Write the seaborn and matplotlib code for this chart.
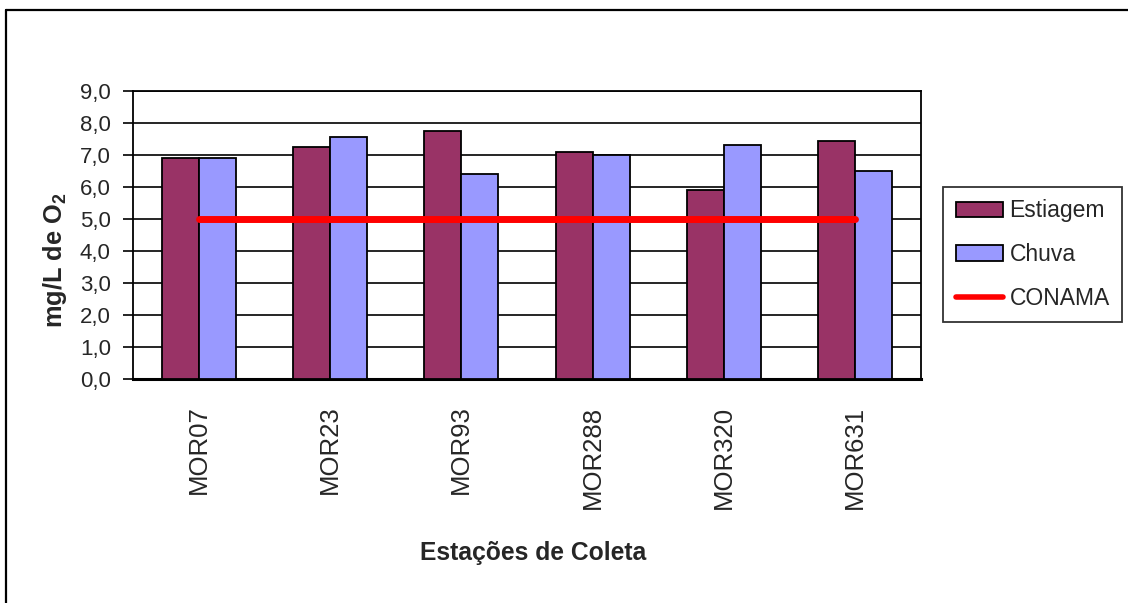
import matplotlib
matplotlib.use("Agg")
import matplotlib.pyplot as plt
import seaborn as sns
import numpy as np
import pandas as pd
from matplotlib.lines import Line2D
from matplotlib.patches import Patch
from matplotlib.ticker import FuncFormatter, FixedLocator

# ---- data ----
stations = ["MOR07", "MOR23", "MOR93", "MOR288", "MOR320", "MOR631"]
estiagem = [6.9, 7.25, 7.75, 7.1, 5.9, 7.45]
chuva = [6.9, 7.55, 6.4, 7.0, 7.3, 6.5]
conama = [5.0, 5.0, 5.0, 5.0, 5.0, 5.0]
series_names = ["Estiagem", "Chuva", "CONAMA"]
y_ticks = [0, 1, 2, 3, 4, 5, 6, 7, 8, 9]

colors = {"Estiagem": "#993366", "Chuva": "#9999FF"}

sns.set_style("white")
plt.rcParams["font.family"] = ["Liberation Sans", "DejaVu Sans"]
plt.rcParams["mathtext.fontset"] = "custom"
plt.rcParams["mathtext.rm"] = "Liberation Sans"
plt.rcParams["mathtext.bf"] = "Liberation Sans:bold"

df = pd.DataFrame({
    "Estação": stations * 2,
    "Valor": estiagem + chuva,
    "Período": [series_names[0]] * len(stations) + [series_names[1]] * len(stations),
})

fig = plt.figure(figsize=(11.28, 6.03), dpi=100)
ax = fig.add_axes([133 / 1128, 1 - 379 / 603, 788 / 1128, 288 / 603])

sns.barplot(data=df, x="Estação", y="Valor", hue="Período", order=stations,
            hue_order=series_names[:2], palette=colors, width=0.565,
            edgecolor="black", linewidth=1.3, saturation=1, ax=ax, legend=False,
            errorbar=None, zorder=3)

sns.lineplot(x=np.arange(len(stations)), y=conama, color="#FF0000", linewidth=5,
             ax=ax, zorder=4, solid_capstyle="round")

ax.set_xlim(-0.5, len(stations) - 0.5)
ax.set_ylim(0, 9)
ax.yaxis.set_major_locator(FixedLocator(y_ticks))
ax.yaxis.set_major_formatter(FuncFormatter(lambda v, p: f"{v:.1f}".replace(".", ",")))
ax.grid(axis="y", color="black", linewidth=1.2, zorder=0)
ax.grid(axis="x", visible=False)
ax.set_axisbelow(True)

# x ticks: boundaries as major (no labels), centers as minor (labels)
ax.xaxis.set_major_locator(FixedLocator(np.arange(len(stations) + 1) - 0.5))
ax.xaxis.set_major_formatter(FuncFormatter(lambda v, p: ""))
ax.set_xticks(np.arange(len(stations)), labels=stations, minor=True)
ax.tick_params(axis="x", which="major", direction="inout", length=12, width=1.2, color="black")
ax.tick_params(axis="x", which="minor", length=0, labelsize=18.5, labelrotation=90, pad=19)
ax.tick_params(axis="y", which="major", direction="out", length=7, width=1.2,
               color="black", labelsize=16, pad=9, left=True)
for lab in ax.get_xticklabels(minor=True):
    lab.set_va("top")

for s in ["top", "right", "left"]:
    ax.spines[s].set_color("black")
    ax.spines[s].set_linewidth(1.3)
ax.spines["bottom"].set_color("black")
ax.spines["bottom"].set_linewidth(2.2)

ax.set_xlabel("Estações de Coleta", fontsize=17.7, fontweight="bold")
ax.set_ylabel(r"mg/L de O$_\mathbf{2}$", fontsize=18.3, fontweight="bold")
ax.xaxis.set_label_coords(0.508, -0.604)
ax.xaxis.label.set_va("center")
ax.yaxis.set_label_coords(-0.099, 0.413)
ax.yaxis.label.set_va("center")

handles = [
    Patch(facecolor=colors["Estiagem"], edgecolor="black", linewidth=1.3),
    Patch(facecolor=colors["Chuva"], edgecolor="black", linewidth=1.3),
    Line2D([0], [0], color="#FF0000", linewidth=4),
]
leg = fig.legend(handles, series_names, loc="center left",
                 bbox_to_anchor=(943 / 1128, 1 - 254.5 / 603), frameon=True,
                 fancybox=False, edgecolor="black", fontsize=16.5, handlelength=2.05,
                 handleheight=0.65, handletextpad=0.3, labelspacing=0.9,
                 borderpad=0.55, borderaxespad=0)
leg.get_frame().set_linewidth(1.3)

# outer chart border (left and top visible)
fig.add_artist(Line2D([6 / 1128, 6 / 1128], [0, 1 - 10 / 603], transform=fig.transFigure,
                      color="black", linewidth=1.6))
fig.add_artist(Line2D([6 / 1128, 1], [1 - 10 / 603, 1 - 10 / 603], transform=fig.transFigure,
                      color="black", linewidth=1.6))

fig.savefig("out.png", dpi=100)
